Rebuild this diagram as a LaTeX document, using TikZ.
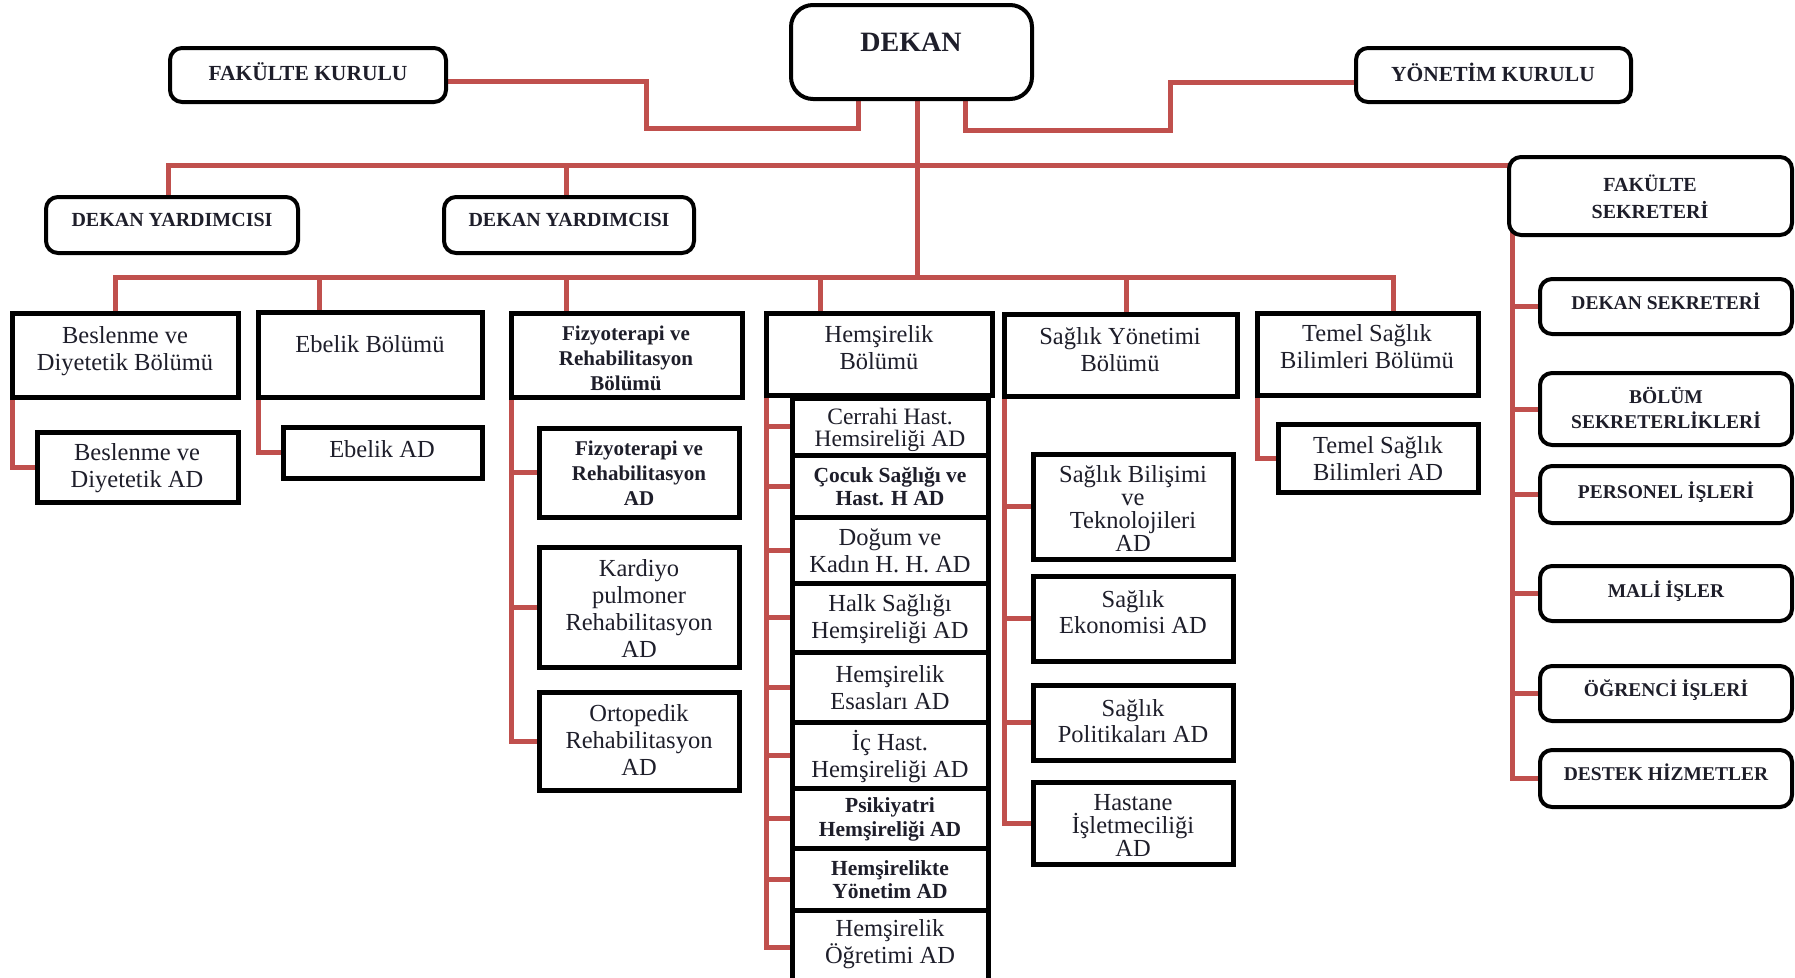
\documentclass[tikz,border=0pt]{standalone}
\usepackage{fontspec}
\setmainfont{Liberation Serif}
\definecolor{lnred}{RGB}{192,80,77}
\definecolor{tcol}{RGB}{30,30,42}
\pgfdeclarelayer{back}
\pgfdeclarelayer{bg}
\pgfsetlayers{back,bg,main}
\newcommand\bx[6]{\node[#2, minimum width=#5-#3, minimum height=#6-#4] (#1) at (#3,#4) {};}
\newcommand\tx[5]{\node[#2] (#1) at (#3,#4) {#5};}
\begin{document}
\begin{tikzpicture}[x=1pt,y=-1pt,
  box/.style={draw=black, fill=white, line width=5pt, inner sep=0pt, outer sep=0pt, anchor=north west},
  rbox/.style={box, line width=4pt, rounded corners=12pt},
  dbox/.style={box, line width=4pt, rounded corners=22pt},
  ln/.style={draw=lnred, line width=5pt},
  treg/.style={align=center, inner sep=0pt, text=tcol, font=\fontsize{24.5}{27}\selectfont},
  tbold/.style={align=center, inner sep=0pt, text=tcol, font=\bfseries\fontsize{21.5}{24}\selectfont},
  tcap/.style={align=center, inner sep=0pt, text=tcol, font=\bfseries\fontsize{20}{27}\selectfont},
  tside/.style={align=center, inner sep=0pt, text=tcol, font=\bfseries\fontsize{19.5}{25}\selectfont}]
\begin{pgfonlayer}{back}
\fill[white] (0,0) rectangle (1795,977);
\end{pgfonlayer}
\useasboundingbox (0,0) rectangle (1795,977);

% top level
\bx{dekan}{dbox}{791}{5}{1032}{99}
\bx{fk}{rbox}{170}{48}{446}{102}
\bx{yk}{rbox}{1356}{48}{1631}{102}
\bx{dya}{rbox}{46}{197}{298}{253}
\bx{dyb}{rbox}{444}{197}{694}{253}
\bx{fs}{rbox}{1509}{157}{1792}{235}

% departments
\bx{bes}{box}{12}{313}{238}{397}
\bx{ebe}{box}{258}{312}{482}{397}
\bx{fzb}{box}{511}{313}{742}{397}
\bx{hmb}{box}{766}{313}{992}{395}
\bx{syb}{box}{1004}{314}{1237}{396}
\bx{tmb}{box}{1257}{313}{1478}{395}

% AD boxes
\bx{besad}{box}{37}{432}{238}{502}
\bx{ebead}{box}{283}{427}{482}{478}
\bx{fzad}{box}{539}{428}{739}{517}
\bx{kpad}{box}{539}{547}{739}{667}
\bx{orad}{box}{539}{692}{739}{790}
\bx{cer}{box}{792}{398}{988}{455}
\bx{coc}{box}{792}{455}{988}{517}
\bx{dog}{box}{792}{517}{988}{583}
\bx{hlk}{box}{792}{583}{988}{652}
\bx{esa}{box}{792}{652}{988}{722}
\bx{ich}{box}{792}{722}{988}{788}
\bx{psk}{box}{792}{788}{988}{848}
\bx{yon}{box}{792}{848}{988}{910}
\bx{ogr}{box}{792}{910}{988}{984}
\bx{bil}{box}{1033}{454}{1233}{559}
\bx{eko}{box}{1033}{576}{1233}{661}
\bx{pol}{box}{1033}{685}{1233}{760}
\bx{has}{box}{1033}{782}{1233}{864}
\bx{tmad}{box}{1278}{424}{1478}{492}

% secretariat column
\bx{dsk}{rbox}{1540}{279}{1792}{334}
\bx{bsk}{rbox}{1540}{373}{1792}{445}
\bx{per}{rbox}{1540}{466}{1792}{523}
\bx{mal}{rbox}{1540}{566}{1792}{621}
\bx{ogi}{rbox}{1540}{666}{1792}{721}
\bx{dst}{rbox}{1540}{750}{1792}{807}

% texts
\tx{dekan-t}{tcap, font=\bfseries\fontsize{28}{30}\selectfont}{911}{42}{DEKAN}
\tx{fk-t}{tcap, font=\bfseries\fontsize{21.5}{27}\selectfont}{308}{72}{FAKÜLTE KURULU}
\tx{yk-t}{tcap, font=\bfseries\fontsize{21.5}{27}\selectfont}{1493}{72}{YÖNETİM KURULU}
\tx{dya-t}{tcap}{172}{220}{DEKAN YARDIMCISI}
\tx{dyb-t}{tcap}{569}{220}{DEKAN YARDIMCISI}
\tx{fs-t}{tcap}{1650}{197}{FAKÜLTE\\SEKRETERİ}

\tx{bes-t}{treg}{125}{351}{Beslenme ve\\Diyetetik Bölümü}
\tx{ebe-t}{treg}{370}{344}{Ebelik Bölümü}
\tx{fzb-t}{tbold, font=\bfseries\fontsize{21}{25}\selectfont}{626}{358}{Fizyoterapi ve\\Rehabilitasyon\\Bölümü}
\tx{hmb-t}{treg}{879}{348}{Hemşirelik\\Bölümü}
\tx{syb-t}{treg}{1120}{350}{Sağlık Yönetimi\\Bölümü}
\tx{tmb-t}{treg}{1367}{347}{Temel Sağlık\\Bilimleri Bölümü}

\tx{besad-t}{treg}{137}{468}{Beslenme ve\\Diyetetik AD}
\tx{ebead-t}{treg}{382}{449}{Ebelik AD}
\tx{fzad-t}{tbold, font=\bfseries\fontsize{21}{25}\selectfont}{639}{473}{Fizyoterapi ve\\Rehabilitasyon\\AD}
\tx{kpad-t}{treg}{639}{609}{Kardiyo\\pulmoner\\Rehabilitasyon\\AD}
\tx{orad-t}{treg}{639}{740}{Ortopedik\\Rehabilitasyon\\AD}
\tx{cer-t}{treg, font=\fontsize{23.5}{22}\selectfont}{890}{430}{Cerrahi Hast.\\Hemsireliği AD}
\tx{coc-t}{tbold, font=\bfseries\fontsize{21.5}{23}\selectfont}{890}{487}{Çocuk Sağlığı ve\\Hast. H AD}
\tx{dog-t}{treg}{890}{551}{Doğum ve\\Kadın H. H. AD}
\tx{hlk-t}{treg}{890}{619}{Halk Sağlığı\\Hemşireliği AD}
\tx{esa-t}{treg}{890}{688}{Hemşirelik\\Esasları AD}
\tx{ich-t}{treg}{890}{757}{İç Hast.\\Hemşireliği AD}
\tx{psk-t}{tbold}{890}{819}{Psikiyatri\\Hemşireliği AD}
\tx{yon-t}{tbold, font=\bfseries\fontsize{21.5}{23}\selectfont}{890}{880}{Hemşirelikte\\Yönetim AD}
\tx{ogr-t}{treg}{890}{944}{Hemşirelik\\Öğretimi AD}
\tx{bil-t}{treg, font=\fontsize{24.5}{23}\selectfont}{1133}{509}{Sağlık Bilişimi\\ve\\Teknolojileri\\AD}
\tx{eko-t}{treg, font=\fontsize{24.5}{26}\selectfont}{1133}{612}{Sağlık\\Ekonomisi AD}
\tx{pol-t}{treg, font=\fontsize{24.5}{26}\selectfont}{1133}{721}{Sağlık\\Politikaları AD}
\tx{has-t}{treg, font=\fontsize{24.5}{23}\selectfont}{1133}{825}{Hastane\\İşletmeciliği\\AD}
\tx{tmad-t}{treg}{1378}{459}{Temel Sağlık\\Bilimleri AD}

\tx{dsk-t}{tside}{1666}{301}{DEKAN SEKRETERİ}
\tx{bsk-t}{tside}{1666}{408}{BÖLÜM\\SEKRETERLİKLERİ}
\tx{per-t}{tside}{1666}{492}{PERSONEL İŞLERİ}
\tx{mal-t}{tside}{1666}{591}{MALİ İŞLER}
\tx{ogi-t}{tside}{1666}{690}{ÖĞRENCİ İŞLERİ}
\tx{dst-t}{tside}{1666}{772}{DESTEK HİZMETLER}

% connectors
\coordinate (fkA) at (646,81);
\coordinate (fkB) at (646,128);
\coordinate (fkC) at (858,128);
\coordinate (ykA) at (965,130);
\coordinate (ykB) at (1170,130);
\coordinate (ykC) at (1170,82);
\coordinate (dkM) at (917,277);
\coordinate (ubL) at (168,165);
\coordinate (ub2) at (566,165);
\coordinate (lb1) at (115,277);
\coordinate (lb2) at (319,277);
\coordinate (lb3) at (566,277);
\coordinate (lb4) at (820,277);
\coordinate (lb5) at (1126,277);
\coordinate (lb6) at (1393,277);
\coordinate (fsA) at (1512,224);

\begin{pgfonlayer}{bg}
\draw[ln] (fk.east |- fkA) -- (fkA) -- (fkB) -- (fkC) -- (fkC |- dekan.south);
\draw[ln] (ykA |- dekan.south) -- (ykA) -- (ykB) -- (ykC) -- (yk.west |- ykC);
\draw[ln] (dkM |- dekan.south) -- (dkM);
\draw[ln] (ubL |- dya.north) -- (ubL) -- (fs.west |- ubL);
\draw[ln] (ub2) -- (ub2 |- dyb.north);
\draw[ln] (lb1 |- bes.north) -- (lb1) -- (lb6) -- (lb6 |- tmb.north);
\draw[ln] (lb2) -- (lb2 |- ebe.north);
\draw[ln] (lb3) -- (lb3 |- fzb.north);
\draw[ln] (lb4) -- (lb4 |- hmb.north);
\draw[ln] (lb5) -- (lb5 |- syb.north);
% sub branches
\draw[ln] (bes.south west) -- (bes.south west |- besad.west) -- (besad.west);
\draw[ln] (ebe.south west) -- (ebe.south west |- ebead.west) -- (ebead.west);
\draw[ln] (tmb.south west) -- (tmb.south west |- tmad.west) -- (tmad.west);
\draw[ln] (fzb.south west) -- (fzb.south west |- orad.west) -- (orad.west);
\foreach \n in {fzad,kpad} \draw[ln] (fzb.south west |- \n.west) -- (\n.west);
\draw[ln] (hmb.south west) -- (hmb.south west |- ogr.west) -- (ogr.west);
\foreach \n in {cer,coc,dog,hlk,esa,ich,psk,yon} \draw[ln] (hmb.south west |- \n.west) -- (\n.west);
\draw[ln] (syb.south west) -- (syb.south west |- has.west) -- (has.west);
\foreach \n in {bil,eko,pol} \draw[ln] (syb.south west |- \n.west) -- (\n.west);
\draw[ln] (fsA) -- (fsA |- dst.west) -- (dst.west);
\foreach \n in {dsk,bsk,per,mal,ogi} \draw[ln] (fsA |- \n.west) -- (\n.west);
\end{pgfonlayer}
\end{tikzpicture}
\end{document}
